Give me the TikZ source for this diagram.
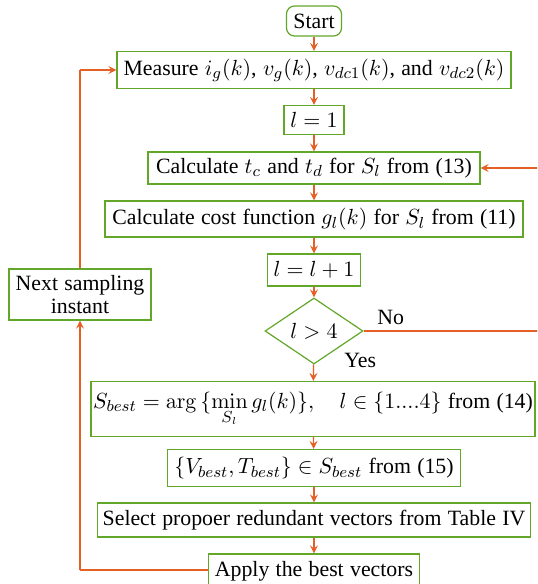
\documentclass[tikz,border=0pt]{standalone}
\usepackage[no-math]{fontspec}
\setmainfont{Liberation Serif}
\usetikzlibrary{shapes.geometric,arrows.meta}
\definecolor{flowgreen}{RGB}{98,166,42}
\definecolor{floworange}{RGB}{228,96,38}
\newcommand{\flowfont}{\fontsize{10.9}{12.5}\selectfont\spaceskip=0.29em plus 0.1em minus 0.05em\relax}
\tikzset{
  procbox/.style={draw=flowgreen, line width=0.6pt, rectangle, inner sep=0pt,
    align=center, font=\flowfont},
  termbox/.style={procbox, rounded corners=4pt},
  decbox/.style={draw=flowgreen, line width=0.6pt, diamond, aspect=1.5, inner sep=0pt,
    font=\flowfont},
  flow/.style={draw=floworange, line width=0.6pt, -{Stealth[length=4pt,width=4pt,inset=1.5pt]}},
  flowline/.style={draw=floworange, line width=0.6pt},
  lbl/.style={font=\flowfont, inner sep=0pt}
}
\begin{document}
\begin{tikzpicture}[x=0.5pt,y=-0.5pt]
\useasboundingbox (0,0) rectangle (537,584);
\clip (0,0) rectangle (537,584);

% main column of steps
\node[termbox, minimum width=55*0.5pt, minimum height=30*0.5pt] (start) at (314,21) {Start};
\node[procbox, minimum width=394*0.5pt, minimum height=37*0.5pt] (meas) at (314,70)
  {Measure $i_g(k)$, $v_g(k)$, $v_{dc1}(k)$, and $v_{dc2}(k)$};
\node[procbox, minimum width=60*0.5pt, minimum height=29*0.5pt] (init) at (314,120) {$l=1$};
\node[procbox, minimum width=332*0.5pt, minimum height=32*0.5pt] (calc) at (314,168)
  {Calculate $t_c$ and $t_d$ for $S_l$ from (13)};
\node[procbox, minimum width=418*0.5pt, minimum height=36*0.5pt] (cost) at (314,219)
  {Calculate cost function $g_l(k)$ for $S_l$ from (11)};
\node[procbox, minimum width=93*0.5pt, minimum height=32*0.5pt] (incr) at (314,270) {$l=l+1$};
\node[decbox, minimum width=98*0.5pt, minimum height=66*0.5pt] (test) at (314,331) {$l>4$};
\node[procbox, minimum width=444*0.5pt, minimum height=55*0.5pt] (best) at (313,409)
  {$\displaystyle S_{best}=\arg\,\{\min_{S_l} g_l(k)\},\quad l\in\{1....4\}$ from (14)};
\node[procbox, minimum width=293*0.5pt, minimum height=37*0.5pt] (pick) at (314,468)
  {$\{V_{best},T_{best}\}\in S_{best}$ from (15)};
\node[procbox, minimum width=433*0.5pt, minimum height=34*0.5pt] (sel) at (314,520)
  {Select propoer redundant vectors from Table IV};
\node[procbox, minimum width=211*0.5pt, minimum height=34*0.5pt] (apply) at (314,571)
  {Apply the best vectors};
\node[procbox, minimum width=142*0.5pt, minimum height=51*0.5pt] (next) at (80,294.5)
  {Next sampling\\[-1pt] instant};

% straight-down connectors
\draw[flow] (start) -- (meas);
\draw[flow] (meas) -- (init);
\draw[flow] (init) -- (calc);
\draw[flow] (calc) -- (cost);
\draw[flow] (cost) -- (incr);
\draw[flow] (incr) -- (test);
\draw[flow] (test) -- (best);
\draw[flow] (best) -- (pick);
\draw[flow] (pick) -- (sel);
\draw[flow] (sel) -- (apply);

% loop back over the switching states
\coordinate (rtop) at (545,168);
\coordinate (rbot) at (545,331);
\draw[flowline] (test.east) -- (rbot) -- (rtop);
\draw[flow] (rtop) -- (calc.east);
\node[lbl, anchor=west] at (377,317) {No};
\node[lbl, anchor=west] at (344,360) {Yes};

% loop back to the next sample
\coordinate (lbot) at (80,570);
\coordinate (ltop) at (80,70);
\draw[flowline] (apply.west |- lbot) -- (lbot);
\draw[flow] (lbot) -- (next.south);
\draw[flowline] (next.north) -- (ltop);
\draw[flow] (ltop) -- (meas.west);
\end{tikzpicture}
\end{document}
